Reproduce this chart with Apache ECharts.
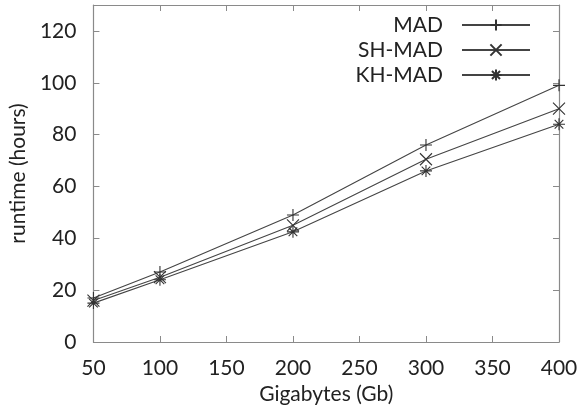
<!DOCTYPE html>
<html>
<head>
<meta charset="utf-8">
<script src="https://cdn.jsdelivr.net/npm/echarts@6/dist/echarts.min.js"></script>
<style>
  html, body { margin: 0; padding: 0; background: #fff; }
  #chart { width: 587px; height: 413px; }
</style>
</head>
<body>
<div id="chart"></div>
<script>
// Dataset sizes (Gb) and runtimes (hours) for each method
const sizes = [50, 100, 200, 300, 400];
const madRuntime = [17, 27, 49, 76, 99];
const shMadRuntime = [16, 25, 45, 70.5, 90];
const khMadRuntime = [15, 24, 42.5, 66, 84];

const seriesNames = ['MAD', 'SH-MAD', 'KH-MAD'];
const xTicks = { min: 50, max: 400, step: 50 };
const yTicks = { min: 0, max: 130, step: 20 };

const FONT = 'Lato';
const INK = '#444';
const FRAME = '#8a8a8a';

// gnuplot-like point markers drawn as strokes
const SYMBOLS = {
  plus: 'path://M0,-1V1M-1,0H1',
  cross: 'path://M-1,-1L1,1M-1,1L1,-1',
  star: 'path://M-1,0H1M0,-1V1M-0.72,-0.72L0.72,0.72M-0.72,0.72L0.72,-0.72'
};

function pairs(ys) { return sizes.map((x, i) => [x, ys[i]]); }

function lineSeries(name, ys, symbol) {
  return {
    name: name,
    type: 'line',
    data: pairs(ys),
    symbol: symbol,
    symbolSize: 12,
    showAllSymbol: true,
    lineStyle: { color: INK, width: 1.1 },
    itemStyle: { color: 'rgba(0,0,0,0)', borderColor: '#333', borderWidth: 1.1 },
    emphasis: { disabled: true },
    animation: false
  };
}

const tickInside = { show: true, inside: true, length: 6, lineStyle: { color: FRAME } };
const frameLine = { show: true, onZero: false, lineStyle: { color: FRAME, width: 1.2 } };
const labelStyle = { fontFamily: FONT, fontSize: 21, color: '#222' };

const chart = echarts.init(document.getElementById('chart'), null, { renderer: 'canvas' });
chart.setOption({
  backgroundColor: '#fff',
  animation: false,
  grid: { left: 93, right: 28, top: 5, bottom: 71, containLabel: false },
  legend: {
    data: seriesNames,
    orient: 'vertical',
    right: 51,
    top: 9,
    align: 'right',
    itemWidth: 68,
    itemHeight: 14,
    itemGap: 3,
    textStyle: { fontFamily: FONT, fontSize: 21, color: '#222', padding: [0, 14, 0, 0], lineHeight: 22 },
    selectedMode: false
  },
  xAxis: [
    {
      type: 'value', min: xTicks.min, max: xTicks.max, interval: xTicks.step,
      name: 'Gigabytes (Gb)', nameLocation: 'middle', nameGap: 41,
      nameTextStyle: labelStyle,
      axisLine: frameLine, axisTick: tickInside,
      axisLabel: Object.assign({ margin: 16 }, labelStyle),
      splitLine: { show: false }
    },
    {
      type: 'value', position: 'top', min: xTicks.min, max: xTicks.max, interval: xTicks.step,
      axisLine: frameLine, axisTick: tickInside, axisLabel: { show: false },
      splitLine: { show: false }
    }
  ],
  yAxis: [
    {
      type: 'value', min: yTicks.min, max: yTicks.max, interval: yTicks.step,
      name: 'runtime (hours)', nameLocation: 'middle', nameGap: 54,
      nameTextStyle: labelStyle,
      axisLine: frameLine, axisTick: tickInside,
      axisLabel: Object.assign({ margin: 17, showMaxLabel: false }, labelStyle),
      splitLine: { show: false }
    },
    {
      type: 'value', position: 'right', min: yTicks.min, max: yTicks.max, interval: yTicks.step,
      axisLine: frameLine, axisTick: tickInside, axisLabel: { show: false },
      splitLine: { show: false }
    }
  ],
  series: [
    lineSeries(seriesNames[0], madRuntime, SYMBOLS.plus),
    lineSeries(seriesNames[1], shMadRuntime, SYMBOLS.cross),
    lineSeries(seriesNames[2], khMadRuntime, SYMBOLS.star)
  ]
});
</script>
</body>
</html>
